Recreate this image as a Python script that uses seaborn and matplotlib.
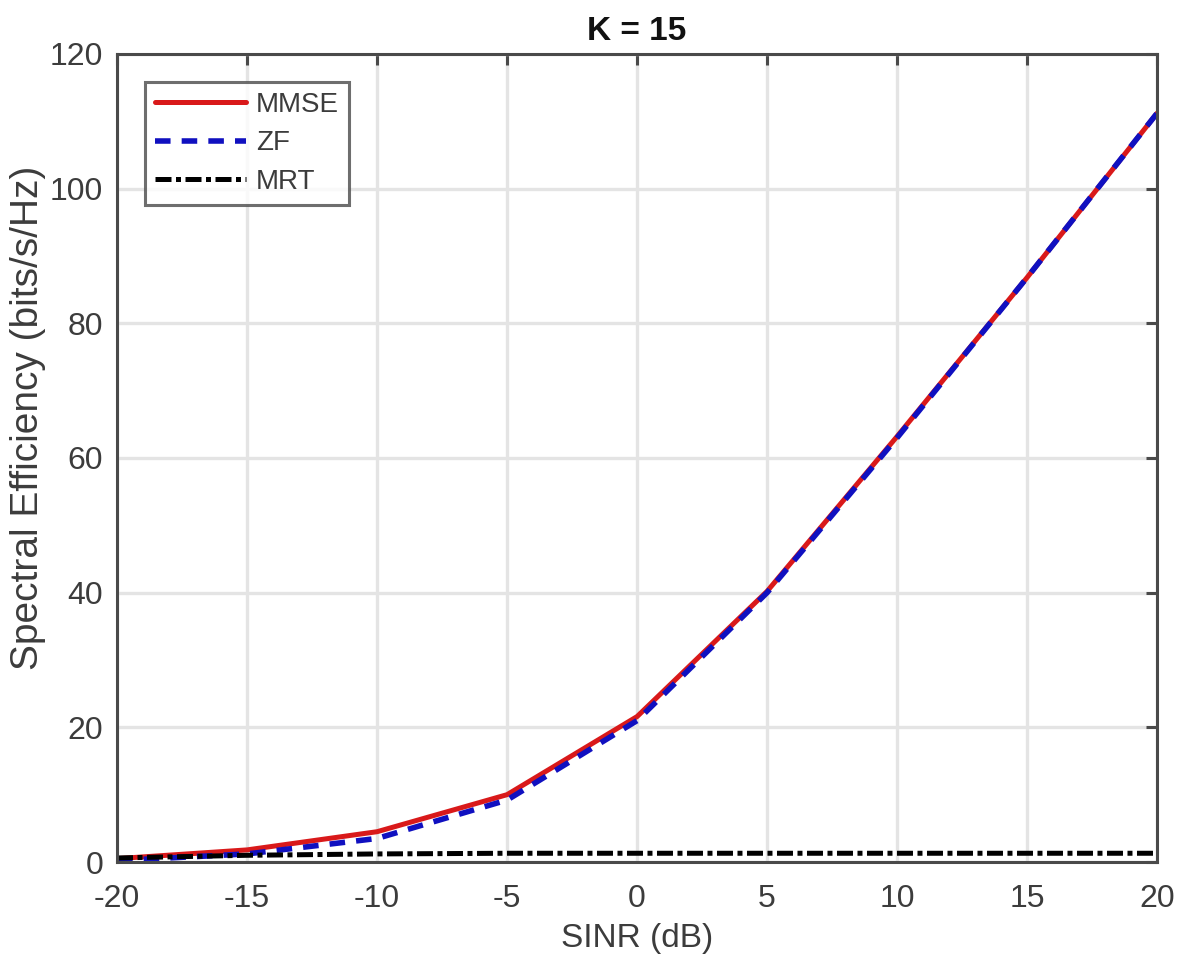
import matplotlib
matplotlib.use("Agg")
import matplotlib.pyplot as plt
import seaborn as sns
import pandas as pd

# SINR sweep (dB) and spectral efficiency of each precoder (bits/s/Hz)
sinr_db = [-20, -15, -10, -5, 0, 5, 10, 15, 20]
se_mmse = [0.5, 1.8, 4.5, 10.0, 21.6, 40.2, 63.2, 86.8, 111.2]
se_zf = [0.2, 1.2, 3.5, 9.2, 21.0, 40.0, 63.0, 86.8, 111.2]
se_mrt = [0.6, 1.0, 1.2, 1.3, 1.3, 1.3, 1.3, 1.3, 1.3]

x_ticks = [-20, -15, -10, -5, 0, 5, 10, 15, 20]
y_ticks = [0, 20, 40, 60, 80, 100, 120]

df = pd.DataFrame({
    "sinr": sinr_db * 3,
    "se": se_mmse + se_zf + se_mrt,
    "scheme": ["MMSE"] * len(sinr_db) + ["ZF"] * len(sinr_db) + ["MRT"] * len(sinr_db),
})

sns.set_theme(style="white")
plt.rcParams["font.family"] = ["Liberation Sans", "DejaVu Sans"]
plt.rcParams["axes.unicode_minus"] = False

axis_grey = "#4a4a4a"
text_grey = "#3c3c3c"
fig = plt.figure(figsize=(11.82, 9.61), dpi=100)
ax = fig.add_axes([0.099, 0.103, 0.880, 0.841])

styles = {
    "MMSE": dict(color="#d9191a", linestyle="-", linewidth=3.6),
    "ZF": dict(color="#1010c0", linestyle=(0, (2.8, 2.0)), linewidth=4.0),
    "MRT": dict(color="black", linestyle=(0, (3.2, 0.9, 1.0, 0.9)), linewidth=3.6),
}
for name in ["MMSE", "ZF", "MRT"]:
    sub = df[df["scheme"] == name]
    sns.lineplot(data=sub, x="sinr", y="se", ax=ax, label=name, **styles[name])

ax.set_xlim(-20, 20)
ax.set_ylim(0, 120)
ax.set_xticks(x_ticks)
ax.set_yticks(y_ticks)
ax.grid(True, color="#e4e4e4", linewidth=2.4)
ax.set_axisbelow(True)

for sp in ax.spines.values():
    sp.set_visible(True)
    sp.set_color(axis_grey)
    sp.set_linewidth(2.2)

ax.tick_params(axis="both", which="both", direction="in", length=8, width=2.2,
               color=axis_grey, labelsize=23, labelcolor=text_grey,
               top=True, right=True)
ax.tick_params(axis="x", pad=16)
ax.tick_params(axis="y", pad=10)

ax.set_xlabel("SINR (dB)", fontsize=24, color=text_grey, labelpad=6)
ax.set_ylabel("Spectral Efficiency (bits/s/Hz)", fontsize=28, color=text_grey, labelpad=3)
ax.yaxis.set_label_coords(-0.068, 0.55)
ax.set_title("K = 15", fontsize=24, fontweight="bold", color="#111111", pad=10)

leg = ax.legend(loc="upper left", bbox_to_anchor=(0.027, 0.965), fontsize=20,
                frameon=True, fancybox=False, handlelength=3.3, handletextpad=0.35,
                borderpad=0.35, labelspacing=0.45, borderaxespad=0)
leg.get_frame().set_edgecolor(axis_grey)
leg.get_frame().set_linewidth(2.2)
for t in leg.get_texts():
    t.set_color(text_grey)

fig.savefig("out.png", dpi=100)
